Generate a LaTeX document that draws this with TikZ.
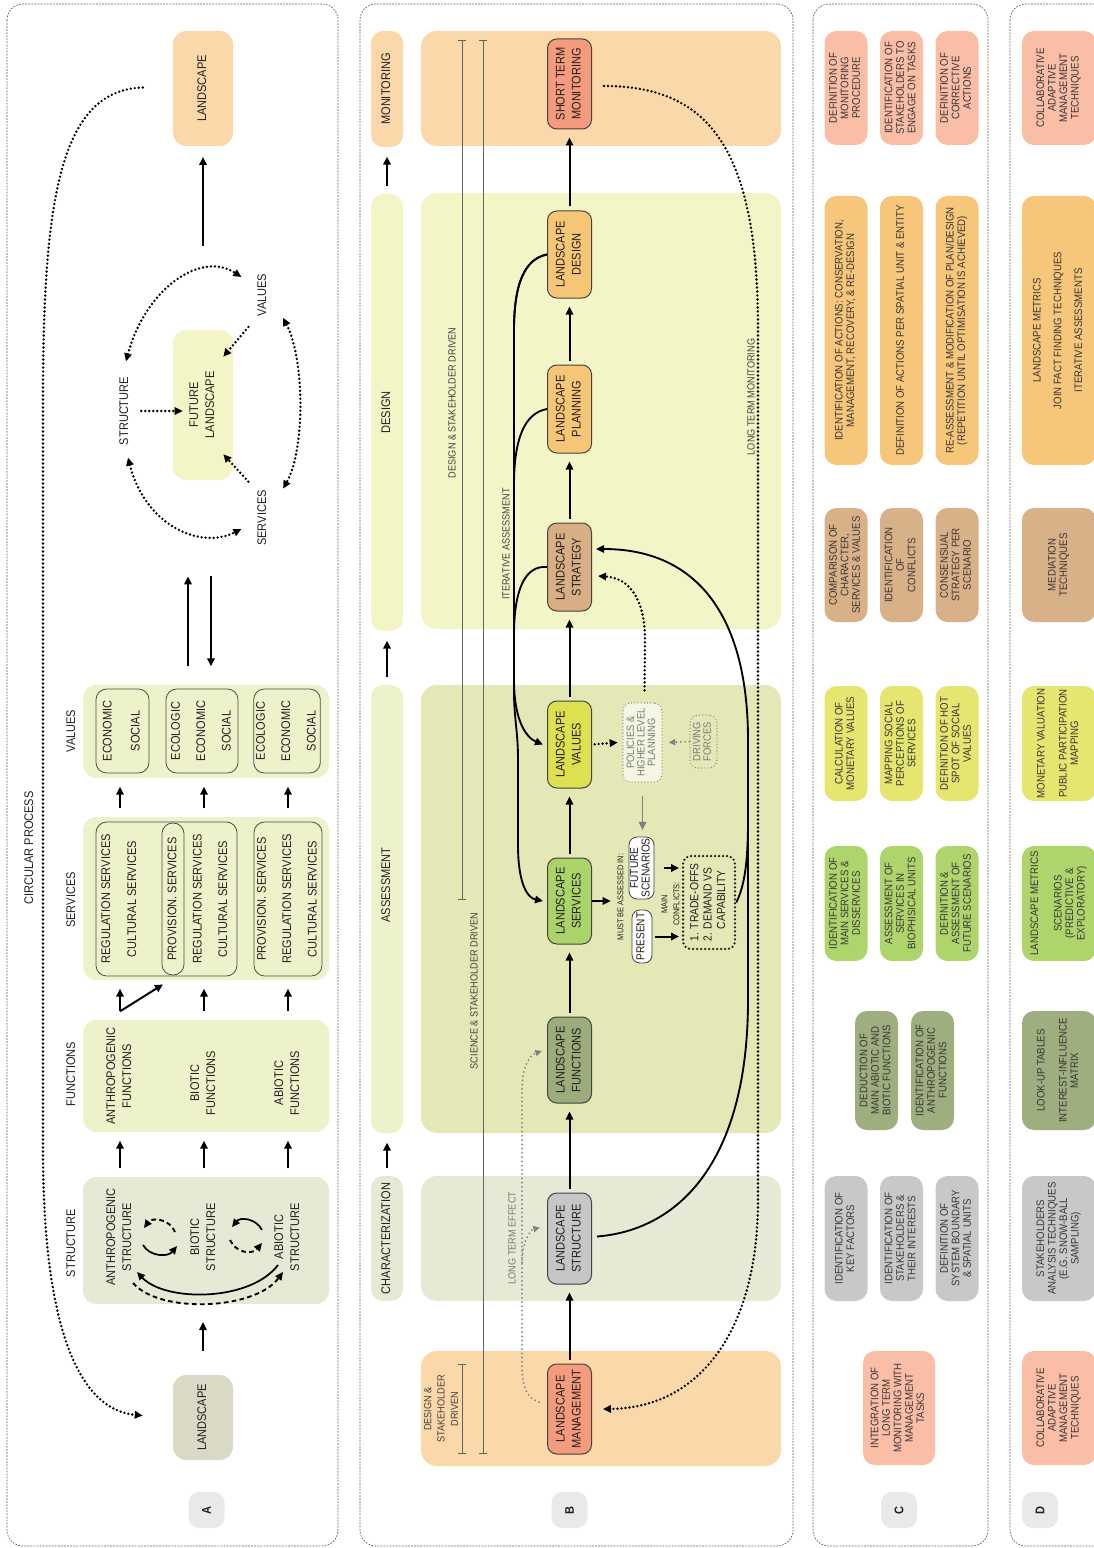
\documentclass[tikz,border=0pt]{standalone}
\usepackage{fontspec}
\setmainfont{Liberation Sans}[FakeStretch=0.88]
\usepackage{graphicx}
\usetikzlibrary{arrows.meta,calc}

\definecolor{ink}{HTML}{231F20}
\definecolor{peach}{HTML}{FBD8A9}
\definecolor{paleyel}{HTML}{F4F5C7}
\definecolor{assessbg}{HTML}{E3E8B6}
\definecolor{charbg}{HTML}{E6EAD4}
\definecolor{abg}{HTML}{EEF2CA}
\definecolor{landgray}{HTML}{D9D9C5}
\definecolor{salmon}{HTML}{F49B7E}
\definecolor{designor}{HTML}{F6C677}
\definecolor{strattan}{HTML}{D8AE84}
\definecolor{valyel}{HTML}{DDE04F}
\definecolor{servgreen}{HTML}{AAD36A}
\definecolor{funcolive}{HTML}{9CAC7B}
\definecolor{structgray}{HTML}{C6C6C8}
\definecolor{cmon}{HTML}{FABDA6}
\definecolor{cdes}{HTML}{F6C67A}
\definecolor{cstrat}{HTML}{D9B188}
\definecolor{cval}{HTML}{E4E66F}
\definecolor{cserv}{HTML}{AED46C}
\definecolor{cfunc}{HTML}{9EAE7E}
\definecolor{cstruct}{HTML}{C8C8CA}
\definecolor{tagc}{HTML}{E9E9E9}

\newdimen\pxu \pxu=0.75pt
\newcommand{\rtext}[2][c]{\rotatebox{90}{\begin{tabular}{@{}#1@{}}#2\end{tabular}}}
\newcommand{\mainfs}{\fontsize{9.4}{12}\selectfont}
\newcommand{\boxfs}{\fontsize{8.2}{8.6}\selectfont}
\newcommand{\notefs}{\fontsize{7.8}{10}\selectfont}
\newcommand{\tinyfs}{\fontsize{6.3}{9}\selectfont}

\tikzset{
  sz/.style 2 args={minimum width=#1*\pxu, minimum height=#2*\pxu},
  panel/.style={draw=ink!75, line width=0.5pt, dash pattern=on 1.3pt off 1pt, rounded corners=12pt},
  abgbox/.style={fill=abg, rounded corners=10pt, inner sep=0pt, outer sep=6.5pt},
  lbox/.style={rounded corners=10pt, inner sep=0pt, font=\mainfs},
  ibox/.style={draw=ink!80, line width=0.6pt, rounded corners=8pt, inner sep=0pt, font=\mainfs},
  pbox/.style={draw=ink!85, line width=0.75pt, rounded corners=7pt, inner sep=0pt, font=\mainfs},
  colbox/.style={rounded corners=9pt, inner sep=0pt, font=\mainfs},
  bgpanel/.style={rounded corners=12pt, inner sep=0pt},
  cbox/.style={rounded corners=9pt, inner sep=0pt, font=\boxfs, text=ink!90},
  wbox/.style={draw=ink!85, fill=white, line width=0.6pt, rounded corners=6pt, inner sep=0pt, font=\fontsize{8.6}{8.6}\selectfont},
  gbox/.style={draw=ink!55, line width=1pt, dash pattern=on 0pt off 2.4pt, line cap=round, rounded corners=6pt, inner sep=0pt, font=\fontsize{8}{7.8}\selectfont, text=ink!60},
  tagbox/.style={fill=tagc, rounded corners=8pt, sz={36}{36}, font=\mainfs},
  lbl/.style={inner sep=1pt, font=\mainfs},
  note/.style={inner sep=1pt, font=\notefs, text=ink!85},
  arr/.style={line width=1.5pt, ->},
  flow/.style={arr, shorten <=3pt, shorten >=6pt},
  dotline/.style={line width=2pt, dash pattern=on 0pt off 3pt, line cap=round},
  dotarr/.style={dotline, ->},
  dotdbl/.style={dotline, <->},
  dasharr/.style={line width=1.4pt, dash pattern=on 3.5pt off 2.5pt, ->},
  gdot/.style={gray, line width=1.5pt, dash pattern=on 0pt off 3.2pt, line cap=round, -{Triangle[length=5pt,width=4.5pt]}},
  iter/.style={line width=1.4pt},
  iterarr/.style={iter, ->},
  brk/.style={draw=ink!70, line width=0.7pt, {Bar[width=6pt]}-{Bar[width=6pt]}},
}

\begin{document}
\begin{tikzpicture}[x=0.75pt, y=-0.75pt, line join=round, text=ink, >={Triangle[length=6pt,width=5.5pt]}]
  \useasboundingbox (0,0) rectangle (1094,1548);
  \clip (0,0) rectangle (1094,1548);

  % --- frames of the four panels
  \draw[panel] (7,4) rectangle (338,1546);
  \draw[panel] (360,4) rectangle (793,1546);
  \draw[panel] (813,4) rectangle (988,1546);
  \draw[panel] (1010,4) rectangle (1120,1546);

  % --- A: circular process
  \node[lbl] (title) at (30,848) {\rtext{CIRCULAR PROCESS}};
  \node[lbl] (hval) at (72,731) {\rtext{VALUES}};
  \node[lbl] (hserv) at (72,900) {\rtext{SERVICES}};
  \node[lbl] (hfunc) at (72,1074) {\rtext{FUNCTIONS}};
  \node[lbl] (hstruct) at (72,1243) {\rtext{STRUCTURE}};

  \node[lbox, fill=peach, sz={60}{115}] (landtop) at (203,88.5) {\rtext{LANDSCAPE}};
  \node[lbox, fill=paleyel, sz={60}{150}] (future) at (203,405) {\rtext{FUTURE\\LANDSCAPE}};
  \node[lbox, fill=landgray, sz={60}{85}] (landbot) at (203,1417.5) {\rtext{LANDSCAPE}};
  \node[lbl] (cyStruct) at (125,411) {\rtext{STRUCTURE}};
  \node[lbl] (cyValues) at (263,295) {\rtext{VALUES}};
  \node[lbl] (cyServ) at (263,518) {\rtext{SERVICES}};

  \node[abgbox, sz={246}{93}] (valbg) at (206,731.5) {};
  \node[abgbox, sz={246}{163}] (servbg) at (206,898.5) {};
  \node[abgbox, sz={246}{112}] (funcbg) at (206,1076) {};
  \node[abgbox, fill=charbg, sz={246}{127}] (structbg) at (206,1240.5) {};

  % values groups
  \node[ibox, sz={53}{84}] (val1) at (122.5,731) {\rtext{ECONOMIC\\[9pt]SOCIAL}};
  \node[ibox, sz={72}{84}] (val2) at (202,731) {\rtext{ECOLOGIC\\[7pt]ECONOMIC\\[7pt]SOCIAL}};
  \node[ibox, sz={66}{84}] (val3) at (287,731) {\rtext{ECOLOGIC\\[7pt]ECONOMIC\\[7pt]SOCIAL}};

  % services groups
  \node[ibox, sz={141}{154}] (serv12) at (166.5,899) {};
  \node[ibox, rounded corners=8pt, sz={22}{152}] (prov) at (173,899) {};
  \node[lbl] (servA) at (120,899) {\rtext{REGULATION SERVICES\\[7.5pt]CULTURAL SERVICES}};
  \node[lbl] (servB) at (198.5,899) {\rtext{PROVISION. SERVICES\\[7pt]REGULATION SERVICES\\[7pt]CULTURAL SERVICES}};
  \node[ibox, sz={68}{154}] (serv3) at (288,899) {\rtext{PROVISION. SERVICES\\[7pt]REGULATION SERVICES\\[7pt]CULTURAL SERVICES}};

  % functions and structure
  \node[lbl] (afun) at (120,1076) {\rtext{ANTHROPOGENIC\\FUNCTIONS}};
  \node[lbl] (bfun) at (204,1083) {\rtext{BIOTIC\\FUNCTIONS}};
  \node[lbl] (abfun) at (288,1083) {\rtext{ABIOTIC\\FUNCTIONS}};
  \node[lbl] (astr) at (120,1237) {\rtext{ANTHROPOGENIC\\STRUCTURE}};
  \node[lbl] (bstr) at (204,1237) {\rtext{BIOTIC\\STRUCTURE}};
  \node[lbl] (abstr) at (288,1237) {\rtext{ABIOTIC\\STRUCTURE}};

  \foreach \nm in {afun,bfun,abfun}{
    \draw[arr] (\nm |- structbg.north) -- (\nm |- funcbg.south);
    \draw[arr] (\nm |- funcbg.north) -- (\nm |- servbg.south);
    \draw[arr] (\nm |- servbg.north) -- (\nm |- valbg.south);
  }
  \draw[arr] (afun |- funcbg.north) -- ($(prov.south)+(-10,9)$);

  % exchanges inside the structure
  \draw[arr, line width=1.3pt] (143,1245) .. controls (150,1257) and (168,1257) .. (177,1246);
  \draw[dasharr] (175,1232) .. controls (170,1219) and (152,1217) .. (144,1228);
  \draw[arr, line width=1.3pt] (262,1230) .. controls (256,1218) and (240,1217) .. (232,1227);
  \draw[dasharr] (230,1240) .. controls (236,1253) and (252,1255) .. (262,1243);
  \draw[arr, line width=1.3pt] (278,1265) .. controls (250,1302) and (165,1302) .. (137,1272);
  \draw[dasharr] (133,1283) .. controls (160,1314) and (255,1310) .. (283,1272);

  \draw[arr, shorten <=18pt, shorten >=7pt] (landbot.north) -- (landbot.north |- structbg.south);
  \draw[arr] ($(valbg.north)+(-18,-10)$) -- ++(0,-90);
  \draw[arr] ($(valbg.north)+(5,-100)$) -- ++(0,90);
  \draw[arr, shorten <=63pt, shorten >=8pt] (future.north) -- (landtop.south);

  % the cycle round the future landscape
  \draw[dotarr, shorten <=5pt] (cyStruct.east) -- ($(future.west |- cyStruct.east)+(10,0)$);
  \draw[dotarr] ($(cyValues.south west)+(-5,9)$) -- ($(future.north east)+(-10,27)$);
  \draw[dotarr] ($(cyServ.north west)+(-5,-7)$) -- ($(future.south east)+(-10,-26)$);
  \draw[dotdbl] ($(cyStruct.north)+(1,-14)$) .. controls (145,290) and (200,250) .. ($(cyValues.west)+(-12,-18)$);
  \draw[dotdbl] ($(cyValues.south east)+(10.5,0)$) .. controls (305,360) and (305,450) .. ($(cyServ.north east)+(10.5,0)$);
  \draw[dotdbl] ($(cyStruct.south)+(3,11)$) .. controls (145,525) and (200,550) .. ($(cyServ.west)+(-12,11)$);
  \draw[dotarr] ($(landtop.west)+(-30,-1)$) .. controls (60,90) and (43,200) .. (43,400) -- (43,1150)
    .. controls (43,1330) and (80,1410) .. ($(landbot.west)+(-30,-2)$);

  \node[tagbox] (tagA) at (206.5,1510) {\rotatebox{90}{\bfseries A}};

  % --- B: phases
  \node[colbox, fill=peach, sz={32}{116}] (lmon) at (387,89) {\rtext{MONITORING}};
  \node[colbox, fill=paleyel, sz={32}{437}] (ldes) at (387,412.5) {\rtext{DESIGN}};
  \node[colbox, fill=abg, sz={32}{448}] (lass) at (387,909) {};
  \node[lbl] (lassText) at (387,885) {\rtext{ASSESSMENT}};
  \node[colbox, fill=charbg, sz={32}{125}] (lchar) at (387,1238.5) {\rtext{CHARACTERIZATION}};
  \foreach \a/\b in {lchar/lass, lass/ldes, ldes/lmon}
    \draw[arr, shorten <=6pt, shorten >=7pt] (\a) -- (\b);

  \node[bgpanel, fill=peach, sz={360}{115}] (bmon) at (601,88.5) {};
  \node[bgpanel, fill=paleyel, sz={360}{436}] (bdes) at (601,411) {};
  \node[bgpanel, fill=assessbg, sz={360}{448}] (bass) at (601,909) {};
  \node[bgpanel, fill=charbg, sz={360}{125}] (bchar) at (601,1238.5) {};
  \node[bgpanel, fill=peach, sz={360}{115}] (bman) at (601,1408.5) {};

  \draw[brk] (462,40) -- (462,900);
  \draw[brk] (483,40) -- (483,1454);
  \draw[brk] (462,1364) -- (462,1454);

  \node[note] (nDesign) at (453,403) {\rtext{DESIGN \& STAKEHOLDER DRIVEN}};
  \node[note] (nScience) at (475,991) {\rtext{SCIENCE \& STAKEHOLDER DRIVEN}};
  \node[note] (nIter) at (507,544) {\rtext{ITERATIVE ASSESSMENT}};
  \node[note] (nLongMon) at (752,397) {\rtext{LONG TERM MONITORING}};
  \node[note, text=ink!60] (nLongEff) at (513,1238) {\rtext{LONG TERM EFFECT}};
  \node[note] (nDesMan) at (442,1409) {\rtext{DESIGN \&\\STAKEHOLDER\\DRIVEN}};

  \node[pbox, fill=salmon, sz={44}{90}] (stm) at (569.5,84) {\rtext{SHORT TERM\\MONITORING}};
  \node[pbox, fill=designor, sz={44}{87}] (ldesign) at (569.5,254.5) {\rtext{LANDSCAPE\\DESIGN}};
  \node[pbox, fill=designor, sz={44}{88}] (lplan) at (569.5,409) {\rtext{LANDSCAPE\\PLANNING}};
  \node[pbox, fill=strattan, sz={44}{88}] (lstrat) at (569.5,567) {\rtext{LANDSCAPE\\STRATEGY}};
  \node[pbox, fill=valyel, sz={44}{87}] (lval) at (569.5,744.5) {\rtext{LANDSCAPE\\VALUES}};
  \node[pbox, fill=servgreen, sz={44}{86}] (lserv) at (569.5,901) {\rtext{LANDSCAPE\\SERVICES}};
  \node[pbox, fill=funcolive, sz={44}{86}] (lfunc) at (569.5,1060) {\rtext{LANDSCAPE\\FUNCTIONS}};
  \node[pbox, fill=structgray, sz={44}{91}] (lstruct) at (569.5,1238.5) {\rtext{LANDSCAPE\\STRUCTURE}};
  \node[pbox, fill=salmon, sz={44}{90}] (lman) at (569.5,1409) {\rtext{LANDSCAPE\\MANAGEMENT}};
  \foreach \a/\b in {lman/lstruct, lstruct/lfunc, lfunc/lserv, lserv/lval, lval/lstrat, lstrat/lplan, lplan/ldesign, ldesign/stm}
    \draw[flow] (\a) -- (\b);

  % iterative assessment
  \draw[iterarr] (ldesign.west) .. controls (524,259) and (514,285) .. (514,330) -- (514,680)
    .. controls (514,722) and (527,738) .. ([xshift=-3pt]lval.west);
  \draw[iterarr] (ldesign.west) .. controls (524,259) and (514,285) .. (514,330) -- (514,690)
    .. controls (514,720) and (518,730) .. (518,760) -- (518,845) .. controls (518,885) and (528,898) .. ([xshift=-3pt]lserv.west);
  \draw[iter] (lplan.west) .. controls (524,413) and (514,440) .. (514,485);
  \draw[iter] (lstrat.west) .. controls (524,565) and (514,592) .. (514,635);

  % scenarios and conflicts
  \node[gbox, fill=assessbg!40!white, sz={39}{79}] (pol) at (642.5,742.5) {\rtext{POLICIES \&\\HIGHER LEVEL\\PLANNING}};
  \node[gbox, sz={27}{53}] (drv) at (703.5,741.5) {\rtext{DRIVING\\FORCES}};
  \node[inner sep=1pt, font=\tinyfs] (mba) at (621,897) {\rtext{MUST BE ASSESSED IN:}};
  \node[wbox, sz={25}{62}] (fut) at (641.5,868) {\rtext{FUTURE\\SCENARIOS}};
  \node[wbox, sz={20}{53}] (pres) at (642,936.5) {\rtext{PRESENT}};
  \node[inner sep=1pt, font=\tinyfs] (mcl) at (671,904) {\rtext{MAIN\\CONFLICTS:}};
  \node[draw=ink, line width=1.9pt, dash pattern=on 0pt off 3pt, line cap=round, rounded corners=6pt,
        inner sep=0pt, sz={52}{93}, font=\fontsize{8.8}{10}\selectfont] (conf) at (709,902.5)
        {\rtext[l]{1. TRADE-OFFS\\2. DEMAND VS\\\hphantom{2. }CAPABILITY}};

  \draw[dotarr, shorten <=2pt] (lval.east) -- ([xshift=-3.5pt]pol.west);
  \draw[gdot] (drv.west) -- ([xshift=4.5pt]pol.east);
  \draw[gray, line width=1.4pt, ->, shorten <=10pt, shorten >=5pt] (pol.south) -- (pol.south |- fut.north);
  \draw[arr, shorten >=2pt] (lserv.east) -- (mba.west |- lserv.east);
  \draw[arr, shorten <=7pt, shorten >=2pt] (fut.east) -- (conf.west |- fut.east);
  \draw[arr, shorten <=2pt, shorten >=2pt] (pres.east) -- (conf.west |- pres.east);
  \draw[dotarr] ($(pol.north)+(2,-12)$) -- (645,640) .. controls (645,600) and (630,578) .. ($(lstrat.east)+(6,9)$);

  % long term loops
  \draw[iterarr] ($(lstruct.east)+(5,-2)$) .. controls (680,1230) and (748,1160) .. (748,1000) -- (748,740)
    .. controls (748,620) and (700,549) .. ($(lstrat.east)+(4,-18)$);
  \draw[iter] (conf.east) .. controls (745,885) and (748,860) .. (748,820);
  \draw[dotarr] ($(stm.east)+(12,2)$) .. controls (710,86) and (758,150) .. (758,330) -- (758,1200)
    .. controls (758,1330) and (700,1408) .. ($(lman.east)+(11,0)$);
  \draw[gdot] ($(lman.west)+(-8,-7)$) .. controls (526,1398) and (522,1385) .. (522,1365) -- (522,1090)
    .. controls (522,1066) and (530,1055) .. ($(lfunc.west)+(-5,-9)$);
  \draw[gdot] (522,1262) .. controls (522,1242) and (530,1230) .. ($(lstruct.west)+(-7,-11)$);

  \node[tagbox] (tagB) at (569.5,1510) {\rotatebox{90}{\bfseries B}};

  % --- C: tasks
  \node[cbox, fill=cmon, sz={43}{114}] (cMon1) at (846,88) {\rtext{DEFINITION OF\\MONITORING\\PROCEDURE}};
  \node[cbox, fill=cmon, sz={43}{114}] (cMon2) at (901.5,88) {\rtext{IDENTIFICATION OF\\STAKEHOLDERS TO\\ENGAGE ON TASKS}};
  \node[cbox, fill=cmon, sz={43}{114}] (cMon3) at (957,88) {\rtext{DEFINITION OF\\CORRECTIVE\\ACTIONS}};
  \node[cbox, fill=cdes, sz={43}{269}] (cDes1) at (846,330.5) {\rtext{IDENTIFICATION OF ACTIONS: CONSERVATION,\\MANAGEMENT, RECOVERY, \& RE-DESIGN}};
  \node[cbox, fill=cdes, sz={43}{269}] (cDes2) at (901.5,330.5) {\rtext{DEFINITION OF ACTIONS PER SPATIAL UNIT \& ENTITY}};
  \node[cbox, fill=cdes, sz={43}{269}] (cDes3) at (957,330.5) {\rtext{RE-ASSESSMENT \& MODIFICATION OF PLAN/DESIGN\\(REPETITION UNTIL OPTIMISATION IS ACHIEVED)}};
  \node[cbox, fill=cstrat, sz={43}{114}] (cStr1) at (846,565) {\rtext{COMPARISON OF\\CHARACTER,\\SERVICES \& VALUES}};
  \node[cbox, fill=cstrat, sz={43}{114}] (cStr2) at (901.5,565) {\rtext{IDENTIFICATION\\OF\\CONFLICTS}};
  \node[cbox, fill=cstrat, sz={43}{114}] (cStr3) at (957,565) {\rtext{CONSENSUAL\\STRATEGY PER\\SCENARIO}};
  \node[cbox, fill=cval, sz={43}{115}] (cVal1) at (846,743.5) {\rtext{CALCULATION OF\\MONETARY VALUES}};
  \node[cbox, fill=cval, sz={43}{115}] (cVal2) at (901.5,743.5) {\rtext{MAPPING SOCIAL\\PERCEPTIONS OF\\SERVICES}};
  \node[cbox, fill=cval, sz={43}{115}] (cVal3) at (957,743.5) {\rtext{DEFINITION OF HOT\\SPOT OF SOCIAL\\VALUES}};
  \node[cbox, fill=cserv, sz={43}{115}] (cSer1) at (846,903.5) {\rtext{IDENTIFICATION OF\\MAIN SERVICES \&\\DISSERVICES}};
  \node[cbox, fill=cserv, sz={43}{115}] (cSer2) at (901.5,903.5) {\rtext{ASSESSMENT OF\\SERVICES IN\\BIOPHISICAL UNITS}};
  \node[cbox, fill=cserv, sz={43}{115}] (cSer3) at (957,903.5) {\rtext{DEFINITION \&\\ASSESSMENT OF\\FUTURE SCENARIOS}};
  \node[cbox, fill=cfunc, sz={43}{119}] (cFun1) at (876.5,1070.5) {\rtext{DEDUCTION OF\\MAIN ABIOTIC AND\\BIOTIC FUNCTIONS}};
  \node[cbox, fill=cfunc, sz={43}{119}] (cFun2) at (932.5,1070.5) {\rtext{IDENTIFICATION OF\\ANTHROPOGENIC\\FUNCTIONS}};
  \node[cbox, fill=cstruct, sz={43}{125}] (cStc1) at (846,1238.5) {\rtext{IDENTIFICATION OF\\KEY FACTORS}};
  \node[cbox, fill=cstruct, sz={43}{125}] (cStc2) at (901.5,1238.5) {\rtext{IDENTIFICATION OF\\STAKEHOLDERS \&\\THEIR INTERESTS}};
  \node[cbox, fill=cstruct, sz={43}{125}] (cStc3) at (957,1238.5) {\rtext{DEFINITION OF\\SYSTEM BOUNDARY\\\& SPATIAL UNITS}};
  \node[cbox, fill=cmon, sz={72}{114}] (cMan) at (899,1408) {\rtext{INTEGRATION OF\\LONG TERM\\MONITORING WITH\\MANAGEMENT\\TASKS}};
  \node[tagbox] (tagC) at (899,1510) {\rotatebox{90}{\bfseries C}};

  % --- D: techniques
  \node[cbox, fill=cmon, sz={74}{114}] (dMon) at (1059,88) {\rtext{COLLABORATIVE\\ADAPTIVE\\MANAGEMENT\\TECHNIQUES}};
  \node[cbox, fill=cdes, sz={74}{269}] (dDes) at (1059,330.5) {\rtext{LANDSCAPE METRICS\\[7pt]JOIN FACT FINDING TECHNIQUES\\[7pt]ITERATIVE ASSESSMENTS}};
  \node[cbox, fill=cstrat, sz={74}{114}] (dStr) at (1059,565) {\rtext{MEDIATION\\TECHNIQUES}};
  \node[cbox, fill=cval, sz={74}{115}] (dVal) at (1059,743.5) {\rtext{MONETARY VALUATION\\[8pt]PUBLIC PARTICIPATION\\MAPPING}};
  \node[cbox, fill=cserv, sz={74}{115}] (dSer) at (1059,903.5) {\rtext{LANDSCAPE METRICS\\[9pt]SCENARIOS\\(PREDICTIVE \&\\EXPLORATORY)}};
  \node[cbox, fill=cfunc, sz={74}{119}] (dFun) at (1059,1070.5) {\rtext{LOOK-UP TABLES\\[8pt]INTEREST-INFLUENCE\\MATRIX}};
  \node[cbox, fill=cstruct, sz={74}{125}] (dStc) at (1059,1238.5) {\rtext{STAKEHOLDERS\\ANALYSIS TECHNIQUES\\(E.G. SNOW-BALL\\SAMPLING)}};
  \node[cbox, fill=cmon, sz={74}{114}] (dMan) at (1059,1408) {\rtext{COLLABORATIVE\\ADAPTIVE\\MANAGEMENT\\TECHNIQUES}};
  \node[tagbox] (tagD) at (1040,1510) {\rotatebox{90}{\bfseries D}};
\end{tikzpicture}
\end{document}
